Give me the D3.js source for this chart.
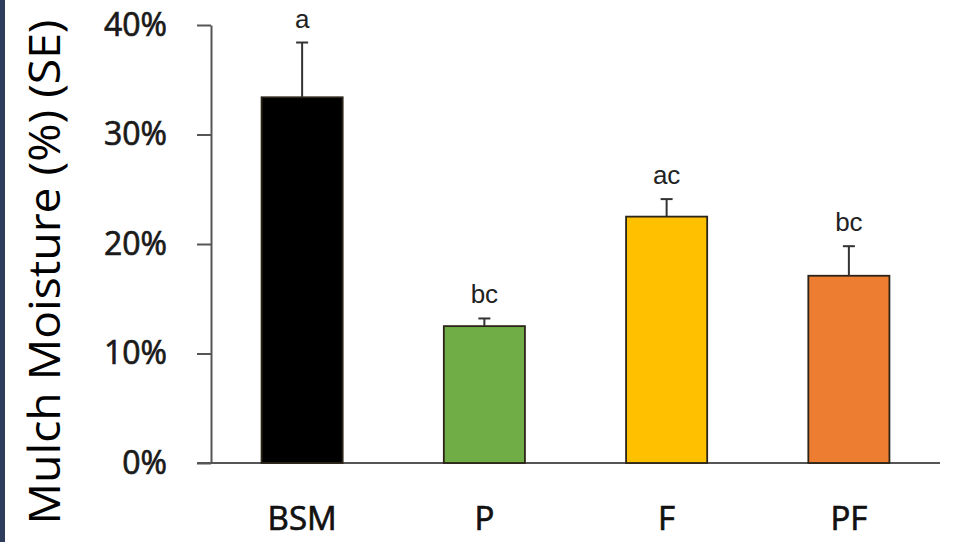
<!DOCTYPE html>
<html><head><meta charset="utf-8">
<script src="https://cdn.jsdelivr.net/npm/d3@7"></script>
<style>body{margin:0;background:#fff}svg{display:block}</style>
</head><body>
<script>
const categories = ["BSM", "P", "F", "PF"];
const means = [33.4, 12.5, 22.5, 17.1];
const errors = [5.0, 0.7, 1.6, 2.7];
const letters = ["a", "bc", "ac", "bc"];
const colors = ["#000000", "#70AD47", "#FFC000", "#ED7D31"];
const yTicks = [0, 10, 20, 30, 40];
const yTitle = "Mulch Moisture (%) (SE)";

const W = 961, H = 551;
const svg = d3.select("body").append("svg").attr("width", W).attr("height", H);

// left decorative strip
svg.append("rect").attr("x", 0).attr("y", 0).attr("width", 5).attr("height", 542).attr("fill", "#2f3d5c");

const x = d3.scaleBand().domain(categories).range([211, 940]).paddingInner(0.555).paddingOuter(0.2775);
const y = d3.scaleLinear().domain([0, 40]).range([463, 25]);

// y axis
const yAxis = svg.append("g").attr("transform", "translate(211,0)")
  .call(d3.axisLeft(y).tickValues(yTicks).tickFormat(d => d + "%").tickSize(14).tickSizeOuter(0));
yAxis.select(".domain").attr("stroke", "#555").attr("stroke-width", 2);
yAxis.selectAll(".tick line").attr("stroke", "#555").attr("stroke-width", 2);
yAxis.selectAll(".tick text").attr("x", -44).attr("fill", "#1a1a1a")
  .attr("stroke", "#1a1a1a").attr("stroke-width", 0.7)
  .style("font-family", "'Open Sans', sans-serif").style("font-size", "32px");

// x axis line
svg.append("line").attr("x1", 197).attr("x2", 940).attr("y1", y(0)).attr("y2", y(0))
  .attr("stroke", "#555").attr("stroke-width", 2);

// x labels
svg.append("g").selectAll("text").data(categories).join("text")
  .attr("x", d => x(d) + x.bandwidth() / 2).attr("y", 530)
  .attr("text-anchor", "middle").attr("fill", "#111")
  .attr("stroke", "#111").attr("stroke-width", 0.7)
  .style("font-family", "'Open Sans', sans-serif").style("font-size", "33px")
  .text(d => d);

// bars
svg.append("g").selectAll("rect").data(categories).join("rect")
  .attr("x", d => x(d)).attr("width", x.bandwidth())
  .attr("y", (d, i) => y(means[i])).attr("height", (d, i) => y(0) - y(means[i]))
  .attr("fill", (d, i) => colors[i]).attr("stroke", "#2b2418").attr("stroke-width", 1.8);

// error bars
const eg = svg.append("g").attr("stroke", "#333").attr("stroke-width", 2);
categories.forEach((c, i) => {
  const cx = x(c) + x.bandwidth() / 2;
  eg.append("line").attr("x1", cx).attr("x2", cx).attr("y1", y(means[i])).attr("y2", y(means[i] + errors[i]));
  eg.append("line").attr("x1", cx - 6).attr("x2", cx + 6).attr("y1", y(means[i] + errors[i])).attr("y2", y(means[i] + errors[i]));
});

// significance letters
svg.append("g").selectAll("text").data(categories).join("text")
  .attr("x", d => x(d) + x.bandwidth() / 2)
  .attr("y", (d, i) => y(means[i] + errors[i]) - 15)
  .attr("text-anchor", "middle").attr("fill", "#222")
  .style("font-family", "'Liberation Sans', Arial, sans-serif").style("font-size", "26px")
  .text((d, i) => letters[i]);

// y title
svg.append("text").attr("transform", "translate(60,272) rotate(-90)")
  .attr("text-anchor", "middle").attr("fill", "#000")
  .attr("textLength", 505).attr("lengthAdjust", "spacingAndGlyphs")
  .style("font-family", "'Open Sans', sans-serif").style("font-size", "43px")
  .text(yTitle);
</script>
</body></html>
